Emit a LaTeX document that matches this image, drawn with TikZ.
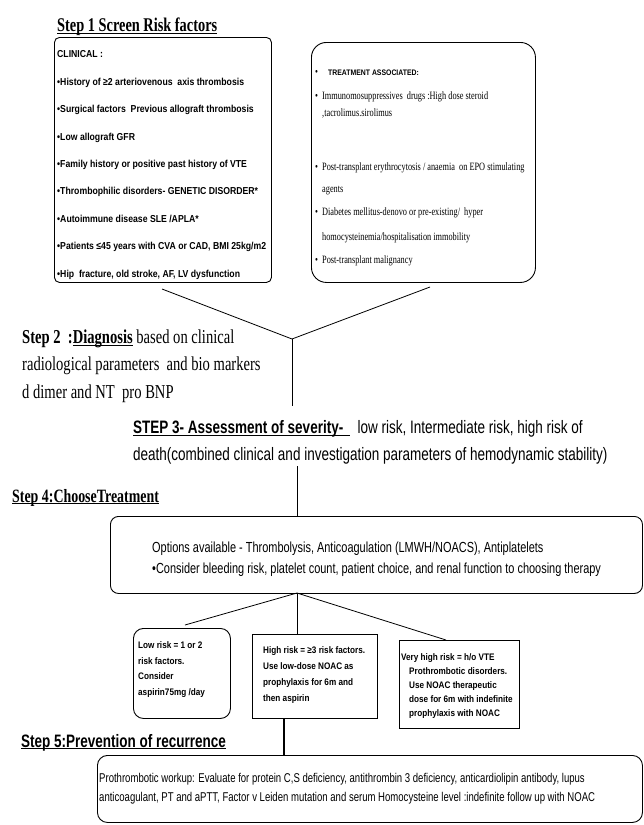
\documentclass[tikz,border=0pt]{standalone}
\usepackage{fontspec}
\setmainfont{Liberation Serif}
\newfontfamily\fsans[FakeStretch=0.75]{Liberation Sans}
\newfontfamily\fsansb[FakeStretch=0.86]{Liberation Sans}
\newfontfamily\fserif[FakeStretch=0.74]{Liberation Serif}
\newcommand\myul[2][1.8pt]{\setbox0\hbox{#2}\rlap{\rule[-#1]{\wd0}{0.8pt}}\box0}
\newcommand\bul{\makebox[7pt][l]{•}}
\begin{document}
\begin{tikzpicture}[x=1pt,y=-1pt,
  box/.style={draw, line width=0.9pt, inner sep=0pt, anchor=north west},
  txt/.style={anchor=base west, inner sep=0pt, align=left},
  link/.style={draw, line width=0.8pt}]
\useasboundingbox (0,0) rectangle (643,825);

% Step 1 (multi-line text nodes are anchored at the baseline of their last line)
\node[txt, font={\fserif\bfseries\fontsize{19.4}{22}\selectfont}] (s1) at (57,31.5) {\myul{Step 1 Screen Risk factors}};
\node[box, rounded corners=5pt, minimum width=217pt, minimum height=245pt] (clin) at (54,37) {};
\node[txt, font={\fsansb\bfseries\fontsize{10.1}{27.4}\selectfont}] (clintx) at (57,277) {CLINICAL :\\
•History of ≥2 arteriovenous \ axis thrombosis\\
•Surgical factors \ Previous allograft thrombosis\\
•Low allograft GFR\\
•Family history or positive past history of VTE\\
•Thrombophilic disorders- GENETIC DISORDER*\\
•Autoimmune disease SLE /APLA*\\
•Patients ≤45 years with CVA or CAD, BMI 25kg/m2\\
•Hip \ fracture, old stroke, AF, LV dysfunction};

\node[box, rounded corners=15pt, minimum width=224pt, minimum height=240pt] (treat) at (311,42) {};
\node[txt, font={\fserif\fontsize{11.2}{17}\selectfont}] (treattx) at (315,263) {\makebox[13pt][l]{•}{\fsansb\bfseries\fontsize{8}{17}\selectfont TREATMENT ASSOCIATED:}\\[7pt]
\bul Immunomosuppressives \ drugs :High dose steroid\\
\hspace*{7pt},tacrolimus.sirolimus\\[37pt]
\bul Post-transplant erythrocytosis / anaemia \ on EPO stimulating\\[5pt]
\hspace*{7pt}agents\\[6pt]
\bul Diabetes mellitus-denovo or pre-existing/ \ hyper\\[8pt]
\hspace*{7pt}homocysteinemia/hospitalisation immobility\\[6pt]
\bul Post-transplant malignancy};

% junction
\coordinate (c1) at (162,289);
\coordinate (c2) at (430,287);
\coordinate (jn) at (292,339);
\coordinate (c3) at (292,406);
\draw[link] (c1) -- (jn) -- (c2);
\draw[link] (jn) -- (c3);

% Step 2
\node[txt, font={\fserif\fontsize{19.7}{27.5}\selectfont}] (s2) at (22,398) {\textbf{Step 2 \ :\myul[2.5pt]{Diagnosis}} based on clinical\\
radiological parameters \ and bio markers\\
d dimer and NT \ pro BNP};

% Step 3
\node[txt, font={\fsans\fontsize{18}{27}\selectfont}] (s3) at (133,460) {\myul[2.5pt]{\textbf{STEP 3- Assessment of severity-}\ \,}\ \ low risk, Intermediate risk, high risk of\\
death(combined clinical and investigation parameters of hemodynamic stability)};

% Step 4
\node[txt, font={\fserif\bfseries\fontsize{18.8}{22}\selectfont}] (s4) at (12,502) {\myul{Step 4:ChooseTreatment}};
\node[box, rounded corners=8pt, minimum width=532pt, minimum height=77pt] (opt) at (110,516) {};
\node[txt, font={\fsans\fontsize{14.6}{21}\selectfont}] (opttx) at (152,573) {Options available - Thrombolysis, Anticoagulation (LMWH/NOACS), Antiplatelets\\
•Consider bleeding risk, platelet count, patient choice, and renal function to choosing therapy};

\coordinate (c4) at (297,466);
\draw[link] (c4) -- (c4 |- opt.north);
\coordinate (c5) at (297,593);

\node[box, rounded corners=10pt, minimum width=97pt, minimum height=90pt] (low) at (133,628) {};
\node[box, minimum width=125pt, minimum height=84pt] (high) at (252,634) {};
\node[box, minimum width=120pt, minimum height=88pt] (vhigh) at (399,640) {};

\node[txt, font={\fsansb\bfseries\fontsize{9.5}{15.5}\selectfont}] (lowtx) at (138,695) {Low risk = 1 or 2\\risk factors.\\Consider\\aspirin75mg /day};
\node[txt, font={\fsansb\bfseries\fontsize{9.5}{15.7}\selectfont}] (hightx) at (263,701) {High risk = ≥3 risk factors.\\Use low-dose NOAC as\\prophylaxis for 6m and\\then aspirin};
\node[txt, font={\fsansb\bfseries\fontsize{9.5}{14}\selectfont}] (vhightx) at (401,716) {Very high risk = h/o VTE\\
\hspace*{8pt}Prothrombotic disorders.\\
\hspace*{8pt}Use NOAC therapeutic\\
\hspace*{8pt}dose for 6m with indefinite\\
\hspace*{8pt}prophylaxis with NOAC};

\coordinate (c6) at (185,625);
\coordinate (c7) at (446,640);
\draw[link] (c5) -- (c6);
\draw[link] (c5) -- (c5 |- high.north);
\draw[link] (c5) -- (c7);

% Step 5
\node[txt, font={\fsans\bfseries\fontsize{18}{22}\selectfont}] (s5) at (21,747) {\myul{Step 5:Prevention of recurrence}};
\node[box, rounded corners=10pt, minimum width=545pt, minimum height=67pt] (prev) at (97,755) {};
\node[txt, font={\fsans\fontsize{12.75}{19}\selectfont}] (prevtx) at (99,801) {Prothrombotic workup: Evaluate for protein C,S deficiency, antithrombin 3 deficiency, anticardiolipin antibody, lupus\\
anticoagulant, PT and aPTT, Factor v Leiden mutation and serum Homocysteine level :indefinite follow up with NOAC};

\coordinate (c8) at (284,718);
\draw[link, line width=1.4pt] (c8) -- (c8 |- prev.north);
\end{tikzpicture}
\end{document}
